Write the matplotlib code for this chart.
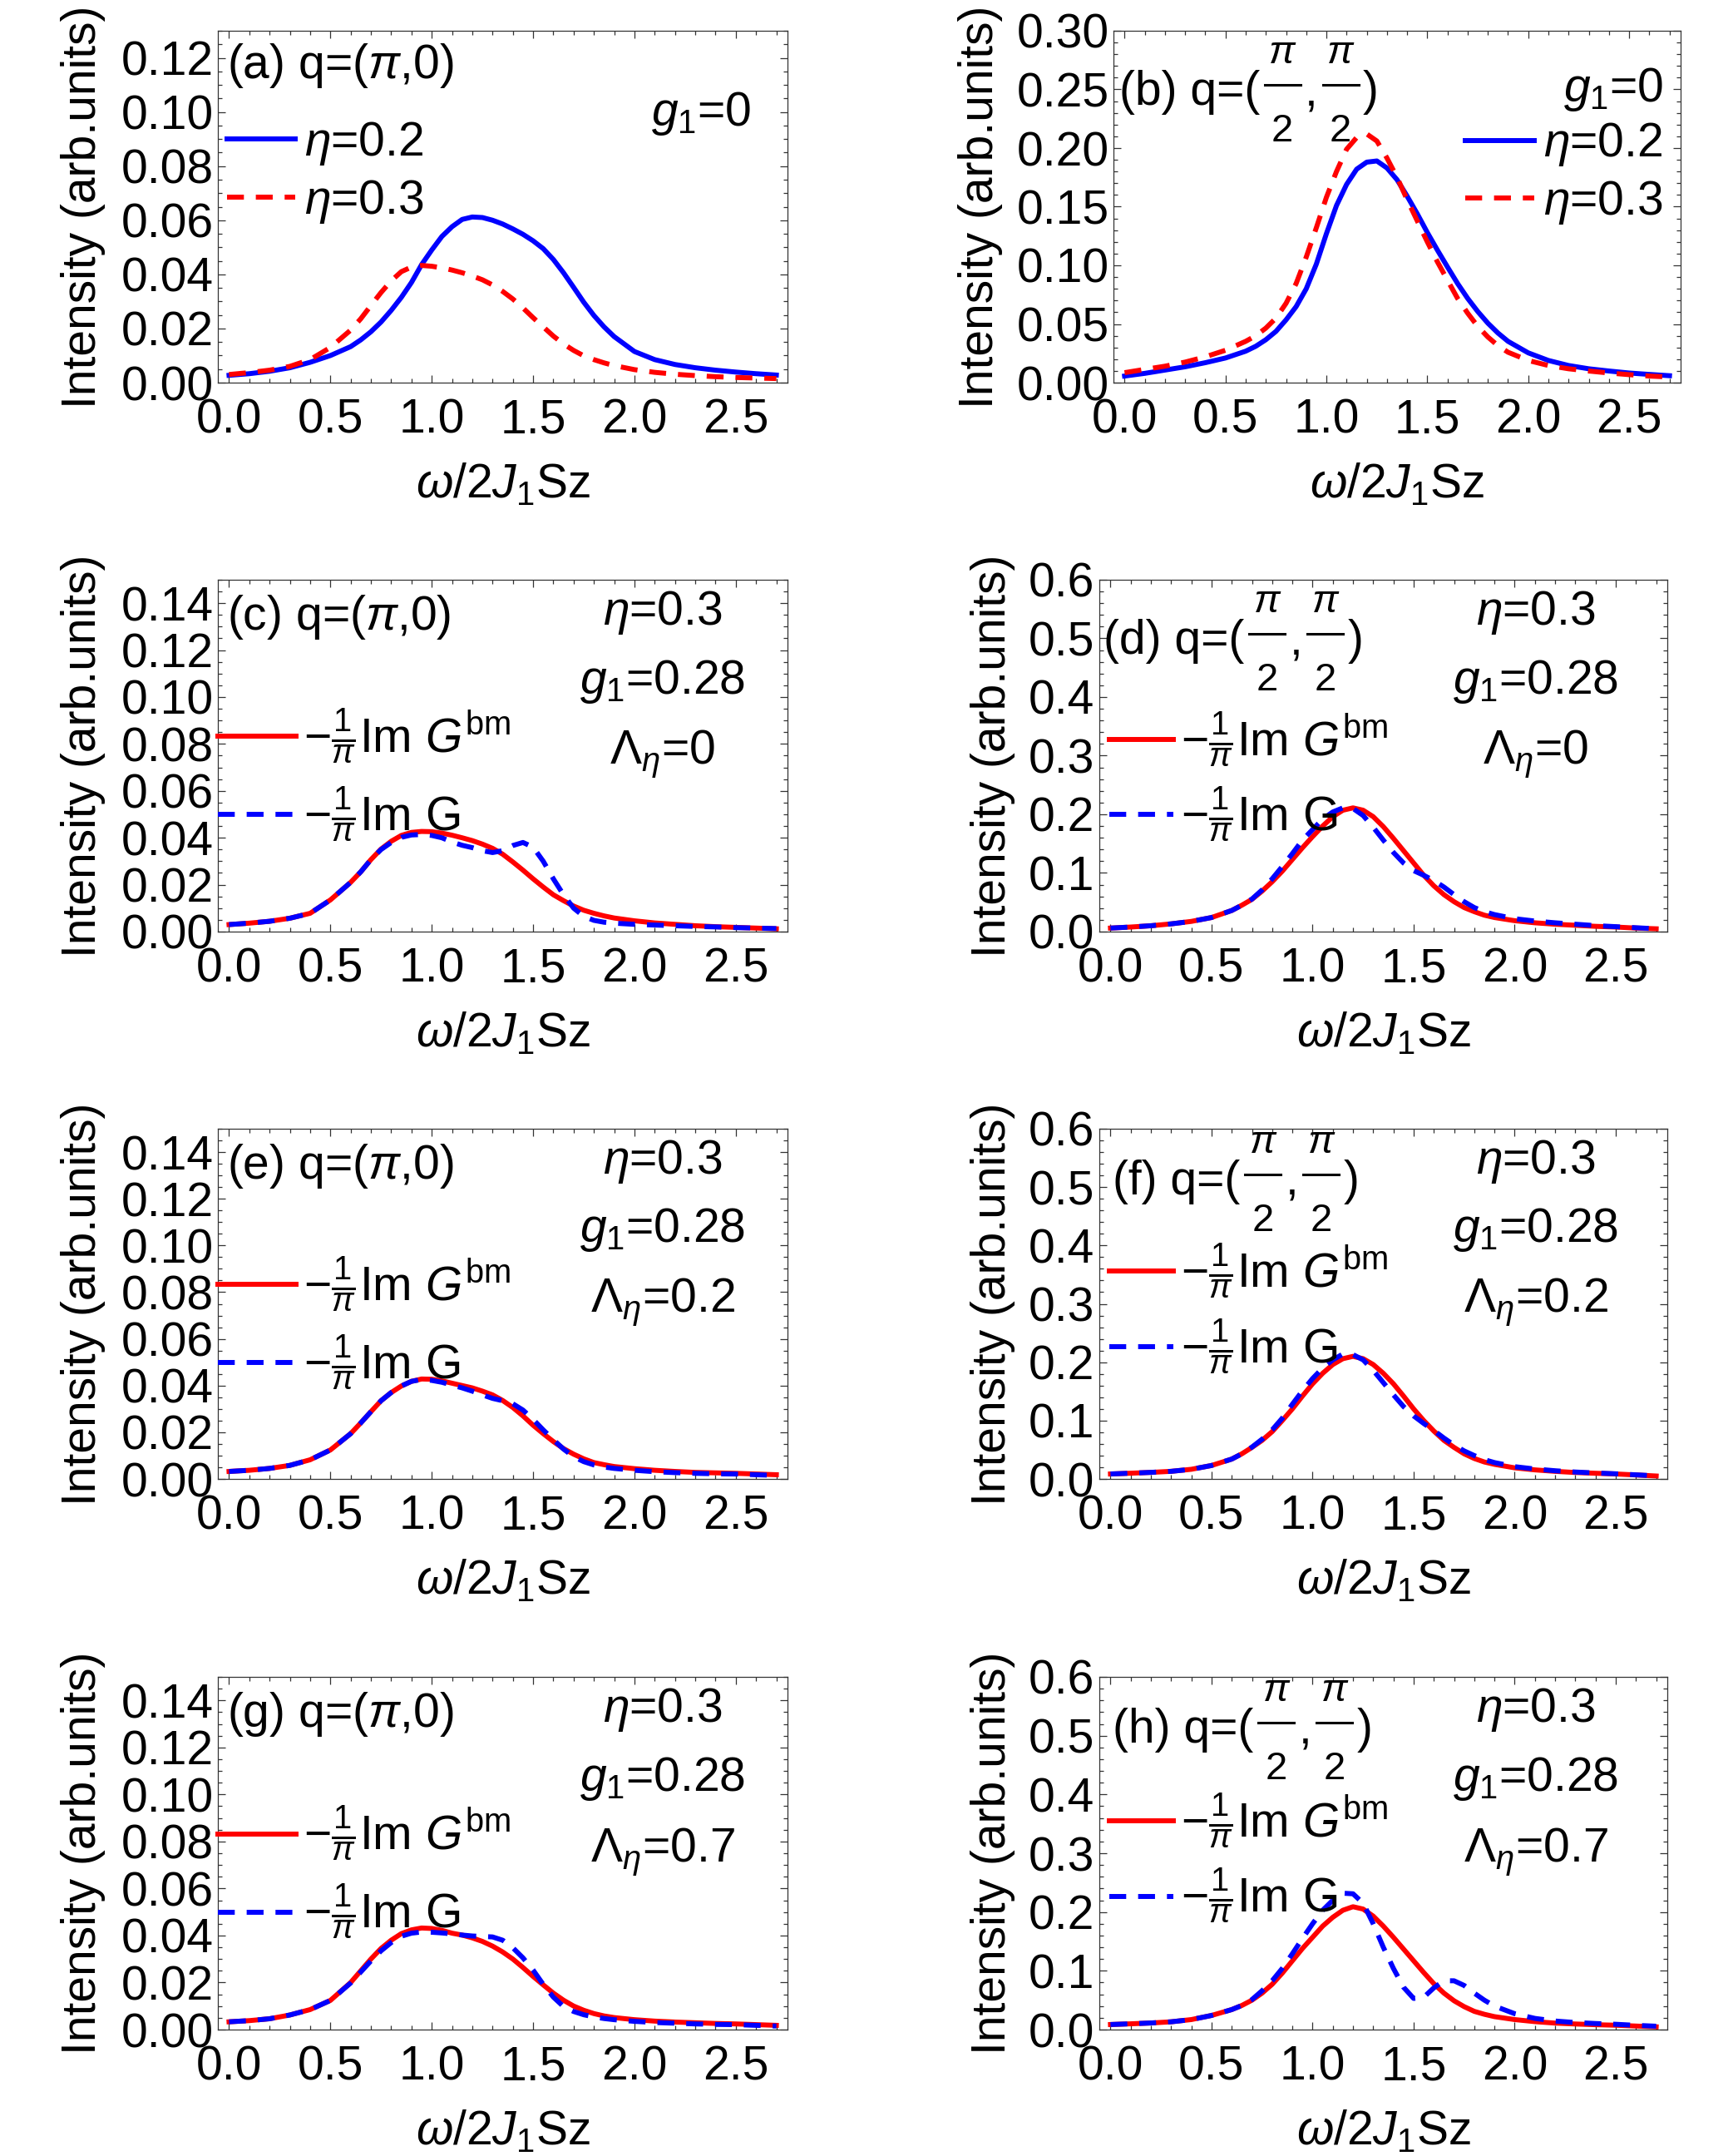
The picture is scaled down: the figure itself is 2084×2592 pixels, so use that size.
import numpy as np
import matplotlib
matplotlib.use('Agg')
import matplotlib.pyplot as plt
from matplotlib.ticker import MultipleLocator, FormatStrFormatter
from matplotlib.offsetbox import TextArea, VPacker, HPacker, DrawingArea, AnchoredOffsetbox
from matplotlib.lines import Line2D

plt.rcParams['font.family'] = ['Liberation Sans', 'DejaVu Sans']
plt.rcParams['mathtext.fontset'] = 'custom'
plt.rcParams['mathtext.rm'] = 'Liberation Sans'
plt.rcParams['mathtext.it'] = 'Liberation Sans:italic'
plt.rcParams['mathtext.bf'] = 'Liberation Sans:bold'

FS = 41

# ── Data ──────────────────────────────────────────────────────────────────────
omega = [0.0, 0.1, 0.2, 0.3, 0.4, 0.5, 0.6, 0.65, 0.7, 0.75, 0.8, 0.85, 0.9, 0.95,
         1.0, 1.05, 1.1, 1.15, 1.2, 1.25, 1.3, 1.35, 1.4, 1.45, 1.5, 1.55, 1.6, 1.65,
         1.7, 1.75, 1.8, 1.85, 1.9, 2.0, 2.1, 2.2, 2.3, 2.4, 2.5, 2.6, 2.7]

# (a) q=(pi,0), g1=0
a_eta02 = [0.0027, 0.0033, 0.0042, 0.0055, 0.0075, 0.0100, 0.0133, 0.0158, 0.0188, 0.0224,
           0.0267, 0.0315, 0.0370, 0.0436, 0.0490, 0.0540, 0.0576, 0.0603, 0.0612, 0.0610,
           0.0600, 0.0586, 0.0568, 0.0548, 0.0524, 0.0495, 0.0455, 0.0406, 0.0352, 0.0297,
           0.0248, 0.0206, 0.0170, 0.0115, 0.0085, 0.0067, 0.0055, 0.0046, 0.0039, 0.0033, 0.0028]
a_eta03 = [0.0030, 0.0037, 0.0046, 0.0060, 0.0085, 0.0130, 0.0194, 0.0236, 0.0285, 0.0333,
           0.0376, 0.0410, 0.0427, 0.0433, 0.0430, 0.0424, 0.0416, 0.0406, 0.0394, 0.0380,
           0.0361, 0.0337, 0.0309, 0.0276, 0.0240, 0.0206, 0.0172, 0.0143, 0.0119, 0.0099,
           0.0085, 0.0073, 0.0063, 0.0048, 0.0038, 0.0031, 0.0026, 0.0022, 0.0019, 0.0017, 0.0015]

# (b) q=(pi/2,pi/2), g1=0
b_eta02 = [0.0056, 0.0079, 0.0107, 0.0135, 0.0170, 0.0210, 0.0268, 0.0310, 0.0366, 0.0437,
           0.0535, 0.0648, 0.0800, 0.1010, 0.1270, 0.1510, 0.1690, 0.1820, 0.1880, 0.1890,
           0.1830, 0.1730, 0.1590, 0.1440, 0.1280, 0.1130, 0.0986, 0.0845, 0.0718, 0.0606,
           0.0507, 0.0423, 0.0352, 0.0254, 0.0189, 0.0146, 0.0118, 0.0099, 0.0082, 0.0070, 0.0059]
b_eta03 = [0.0085, 0.0113, 0.0140, 0.0175, 0.0220, 0.0276, 0.0352, 0.0400, 0.0465, 0.0550,
           0.0676, 0.0845, 0.1070, 0.1320, 0.1580, 0.1800, 0.1990, 0.2090, 0.2120, 0.2060,
           0.1915, 0.1750, 0.1560, 0.1380, 0.1200, 0.1030, 0.0873, 0.0718, 0.0592, 0.0479,
           0.0389, 0.0315, 0.0259, 0.0189, 0.0146, 0.0118, 0.0099, 0.0082, 0.0068, 0.0056, 0.0048]

# (c) q=(pi,0), Lambda=0
c_bm = [0.0030, 0.0036, 0.0044, 0.0057, 0.0078, 0.0135, 0.0210, 0.0255, 0.0307, 0.0352,
        0.0385, 0.0410, 0.0423, 0.0427, 0.0426, 0.0420, 0.0411, 0.0400, 0.0388, 0.0373,
        0.0355, 0.0330, 0.0297, 0.0262, 0.0225, 0.0190, 0.0157, 0.0132, 0.0109, 0.0091,
        0.0078, 0.0067, 0.0058, 0.0046, 0.0037, 0.0031, 0.0025, 0.0021, 0.0018, 0.0015, 0.0012]
c_g = [0.0030, 0.0036, 0.0044, 0.0057, 0.0078, 0.0135, 0.0210, 0.0255, 0.0307, 0.0350,
       0.0380, 0.0402, 0.0412, 0.0414, 0.0410, 0.0400, 0.0382, 0.0368, 0.0358, 0.0345,
       0.0337, 0.0345, 0.0367, 0.0380, 0.0360, 0.0300, 0.0225, 0.0157, 0.0100, 0.0065,
       0.0048, 0.0040, 0.0036, 0.0031, 0.0028, 0.0025, 0.0022, 0.0020, 0.0017, 0.0015, 0.0013]

# (d) q=(pi/2,pi/2), Lambda=0
d_bm = [0.0060, 0.0078, 0.0100, 0.0132, 0.0174, 0.0240, 0.0360, 0.0450, 0.0550, 0.0690,
        0.0850, 0.1030, 0.1230, 0.1430, 0.1620, 0.1800, 0.1960, 0.2070, 0.2110, 0.2070,
        0.1960, 0.1790, 0.1590, 0.1380, 0.1170, 0.0960, 0.0780, 0.0630, 0.0510, 0.0410,
        0.0340, 0.0280, 0.0240, 0.0186, 0.0150, 0.0126, 0.0108, 0.0090, 0.0078, 0.0060, 0.0048]
d_g = [0.0060, 0.0078, 0.0100, 0.0132, 0.0174, 0.0240, 0.0360, 0.0450, 0.0555, 0.0710,
       0.0900, 0.1110, 0.1330, 0.1560, 0.1740, 0.1920, 0.2040, 0.2110, 0.2100, 0.1980,
       0.1780, 0.1560, 0.1350, 0.1170, 0.1040, 0.0960, 0.0870, 0.0760, 0.0630, 0.0510,
       0.0410, 0.0340, 0.0290, 0.0220, 0.0180, 0.0150, 0.0126, 0.0102, 0.0084, 0.0066, 0.0048]

# (e) q=(pi,0), Lambda=0.2
e_bm = [0.0032, 0.0037, 0.0045, 0.0058, 0.0082, 0.0124, 0.0194, 0.0240, 0.0288, 0.0335,
        0.0370, 0.0398, 0.0418, 0.0428, 0.0427, 0.0420, 0.0410, 0.0400, 0.0390, 0.0376,
        0.0360, 0.0336, 0.0306, 0.0270, 0.0230, 0.0194, 0.0160, 0.0130, 0.0106, 0.0086,
        0.0070, 0.0061, 0.0053, 0.0044, 0.0037, 0.0032, 0.0028, 0.0026, 0.0024, 0.0021, 0.0018]
e_g = [0.0032, 0.0037, 0.0045, 0.0058, 0.0082, 0.0124, 0.0194, 0.0240, 0.0288, 0.0335,
       0.0370, 0.0398, 0.0418, 0.0426, 0.0422, 0.0414, 0.0402, 0.0390, 0.0376, 0.0360,
       0.0345, 0.0335, 0.0322, 0.0295, 0.0255, 0.0210, 0.0168, 0.0128, 0.0095, 0.0074,
       0.0060, 0.0051, 0.0045, 0.0037, 0.0031, 0.0027, 0.0024, 0.0022, 0.0021, 0.0018, 0.0015]

# (f) q=(pi/2,pi/2), Lambda=0.2
f_bm = [0.0085, 0.0098, 0.0112, 0.0130, 0.0165, 0.0230, 0.0340, 0.0430, 0.0540, 0.0660,
        0.0810, 0.1000, 0.1200, 0.1420, 0.1630, 0.1810, 0.1960, 0.2060, 0.2100, 0.2060,
        0.1960, 0.1810, 0.1630, 0.1420, 0.1200, 0.1000, 0.0820, 0.0660, 0.0540, 0.0430,
        0.0350, 0.0290, 0.0250, 0.0190, 0.0155, 0.0130, 0.0110, 0.0097, 0.0085, 0.0068, 0.0050]
f_g = [0.0085, 0.0098, 0.0112, 0.0130, 0.0165, 0.0230, 0.0340, 0.0430, 0.0545, 0.0680,
       0.0840, 0.1040, 0.1280, 0.1510, 0.1720, 0.1900, 0.2040, 0.2140, 0.2130, 0.2040,
       0.1860, 0.1650, 0.1440, 0.1240, 0.1080, 0.0950, 0.0830, 0.0700, 0.0580, 0.0480,
       0.0400, 0.0330, 0.0280, 0.0210, 0.0170, 0.0140, 0.0118, 0.0102, 0.0088, 0.0070, 0.0052]

# (g) q=(pi,0), Lambda=0.7
g_bm = [0.0033, 0.0038, 0.0046, 0.0062, 0.0085, 0.0124, 0.0200, 0.0250, 0.0300, 0.0345,
        0.0380, 0.0408, 0.0424, 0.0432, 0.0430, 0.0422, 0.0410, 0.0402, 0.0390, 0.0375,
        0.0355, 0.0330, 0.0300, 0.0264, 0.0226, 0.0190, 0.0155, 0.0125, 0.0100, 0.0082,
        0.0068, 0.0058, 0.0051, 0.0042, 0.0036, 0.0032, 0.0029, 0.0026, 0.0024, 0.0021, 0.0018]
g_g = [0.0033, 0.0038, 0.0046, 0.0062, 0.0085, 0.0124, 0.0198, 0.0245, 0.0292, 0.0335,
       0.0370, 0.0397, 0.0410, 0.0415, 0.0414, 0.0411, 0.0407, 0.0402, 0.0398, 0.0396,
       0.0394, 0.0380, 0.0348, 0.0305, 0.0253, 0.0192, 0.0138, 0.0098, 0.0077, 0.0063,
       0.0054, 0.0047, 0.0042, 0.0035, 0.0030, 0.0027, 0.0024, 0.0022, 0.0021, 0.0018, 0.0015]

# (h) q=(pi/2,pi/2), Lambda=0.7
h_bm = [0.0086, 0.0098, 0.0112, 0.0132, 0.0170, 0.0240, 0.0340, 0.0410, 0.0500, 0.0620,
        0.0770, 0.0960, 0.1170, 0.1380, 0.1570, 0.1760, 0.1910, 0.2030, 0.2090, 0.2050,
        0.1930, 0.1760, 0.1570, 0.1370, 0.1170, 0.0970, 0.0780, 0.0620, 0.0490, 0.0390,
        0.0310, 0.0260, 0.0220, 0.0170, 0.0135, 0.0110, 0.0095, 0.0083, 0.0074, 0.0060, 0.0046]
h_g = [0.0086, 0.0098, 0.0112, 0.0132, 0.0170, 0.0240, 0.0340, 0.0410, 0.0510, 0.0660,
       0.0830, 0.1040, 0.1290, 0.1550, 0.1800, 0.2030, 0.2200, 0.2320, 0.2310, 0.2150,
       0.1800, 0.1400, 0.1040, 0.0720, 0.0530, 0.0550, 0.0710, 0.0830, 0.0830, 0.0750,
       0.0620, 0.0500, 0.0400, 0.0270, 0.0190, 0.0145, 0.0120, 0.0103, 0.0090, 0.0072, 0.0057]

panel_tags = ['(a)', '(b)', '(c)', '(d)', '(e)', '(f)', '(g)', '(h)']
q_pi0 = r'q=($\pi$,0)'
lambdas = ['0', '0.2', '0.7']

LBL_BM = r'$-\frac{1}{\pi}$Im $G^{\mathrm{bm}}$'
LBL_G = r'$-\frac{1}{\pi}$Im G'

BLUE = '#0000ff'
RED = '#ff0000'
FRAME = '#333333'
LW = 4.3
DASH = (3.4, 2.4)

W, H = 2084, 2592


def rect(left, top, right, bottom):
    return [left / W, 1 - bottom / H, (right - left) / W, (bottom - top) / H]


rows = [(37, 460), (697, 1120), (1357, 1778), (2016, 2440)]


def style_axis(ax, ymax, ymaj, ymin, yfmt):
    ax.set_xlim(-0.055, 2.755)
    ax.set_ylim(0, ymax)
    ax.xaxis.set_major_locator(MultipleLocator(0.5))
    ax.xaxis.set_minor_locator(MultipleLocator(0.1))
    ax.yaxis.set_major_locator(MultipleLocator(ymaj))
    ax.yaxis.set_minor_locator(MultipleLocator(ymin))
    ax.xaxis.set_major_formatter(FormatStrFormatter('%.1f'))
    ax.yaxis.set_major_formatter(FormatStrFormatter(yfmt))
    ax.tick_params(which='both', direction='in', top=True, right=True,
                   color=FRAME, width=0.9, labelsize=FS)
    ax.tick_params(which='major', length=6.5)
    ax.tick_params(which='minor', length=3.6)
    ax.tick_params(axis='x', which='major', pad=13)
    ax.tick_params(axis='y', which='major', pad=4)
    for sp in ax.spines.values():
        sp.set_color(FRAME)
        sp.set_linewidth(0.9)
    ax.set_xlabel(r'$\omega/2J_1$Sz', fontsize=FS)
    ax.set_ylabel('Intensity (arb.units)', fontsize=FS)
    ax.xaxis.set_label_coords(0.5, -0.225)


def frac(num, den, size=34):
    # stacked fraction like Mathematica's, built from boxes
    t_num = TextArea(num, textprops=dict(fontsize=size, fontstyle='italic'))
    t_den = TextArea(den, textprops=dict(fontsize=size))
    bar = DrawingArea(31, 4)
    bar.add_artist(Line2D([0, 31], [2, 2], color='black', lw=2.2))
    gap = DrawingArea(1, 3.5)
    return VPacker(children=[t_num, bar, gap, t_den], align='center', pad=0, sep=9.5)


def q_half_label(ax, tag, x, y):
    tp = dict(fontsize=FS)
    box = HPacker(children=[TextArea(tag + ' q=(', textprops=tp),
                            frac('\u03c0', '2'),
                            TextArea(',', textprops=tp),
                            frac('\u03c0', '2'),
                            TextArea(')', textprops=tp)],
                  align='center', pad=0, sep=4)
    anc = AnchoredOffsetbox(loc='center left', child=box, pad=0, borderpad=0,
                            frameon=False, bbox_to_anchor=(x, y),
                            bbox_transform=ax.transAxes)
    ax.add_artist(anc)


fig = plt.figure(figsize=(W / 100, H / 100), dpi=100)

# (a)
ax = fig.add_axes(rect(262, rows[0][0], 947, rows[0][1]))
ax.plot(omega, a_eta02, color=BLUE, lw=LW, label=r'$\eta$=0.2')
ax.plot(omega, a_eta03, color=RED, lw=LW, dashes=DASH, label=r'$\eta$=0.3')
style_axis(ax, 0.13, 0.02, 0.005, '%.2f')
ax.yaxis.set_label_coords(-0.197, 0.5)
ax.text(0.016, 0.90, panel_tags[0] + ' ' + q_pi0, transform=ax.transAxes,
        fontsize=FS, ha='left', va='center')
ax.text(0.848, 0.73, r'$g_1$=0', transform=ax.transAxes, fontsize=FS,
        ha='center', va='baseline')
ax.legend(loc='center left', bbox_to_anchor=(0.016, 0.597), frameon=False,
          fontsize=FS, handlelength=1.44, handletextpad=0.2, borderpad=0,
          borderaxespad=0, labelspacing=0.22)

# (b)
ax = fig.add_axes(rect(1339, rows[0][0], 2021, rows[0][1]))
ax.plot(omega, b_eta02, color=BLUE, lw=LW, label=r'$\eta$=0.2')
ax.plot(omega, b_eta03, color=RED, lw=LW, dashes=DASH, label=r'$\eta$=0.3')
style_axis(ax, 0.30, 0.05, 0.01, '%.2f')
ax.yaxis.set_label_coords(-0.195, 0.5)
q_half_label(ax, panel_tags[1], 0.010, 0.824)
ax.text(0.969, 0.80, r'$g_1$=0', transform=ax.transAxes, fontsize=FS,
        ha='right', va='baseline')
ax.legend(loc='center right', bbox_to_anchor=(0.969, 0.594), frameon=False,
          fontsize=FS, handlelength=1.46, handletextpad=0.2, borderpad=0,
          borderaxespad=0, labelspacing=0.22)

# (c)..(h)
pairs = [(c_bm, c_g), (d_bm, d_g), (e_bm, e_g), (f_bm, f_g), (g_bm, g_g), (h_bm, h_g)]
for i, (bm, gg) in enumerate(pairs):
    r = rows[1 + i // 2]
    right_col = i % 2 == 1
    if right_col:
        ax = fig.add_axes(rect(1322, r[0], 2005, r[1]))
    else:
        ax = fig.add_axes(rect(262, r[0], 947, r[1]))
    ax.plot(omega, bm, color=RED, lw=LW, label=LBL_BM)
    ax.plot(omega, gg, color=BLUE, lw=LW, dashes=DASH, label=LBL_G)
    lam = lambdas[i // 2]
    if right_col:
        style_axis(ax, 0.6, 0.1, 0.02, '%.1f')
        ax.yaxis.set_label_coords(-0.148, 0.5)
        if i == 1:
            q_half_label(ax, panel_tags[2 + i], 0.008, 0.825)
        else:
            q_half_label(ax, panel_tags[2 + i], 0.024, 0.849)
        xc = 0.768
        leg_x, leg_y = 0.018, (0.44 if i == 1 else 0.486)
        hl = 1.35
        lsp = 0.36
    else:
        style_axis(ax, 0.15, 0.02, 0.005, '%.2f')
        ax.yaxis.set_label_coords(-0.197, 0.5)
        ax.text(0.016, 0.894, panel_tags[2 + i] + ' ' + q_pi0, transform=ax.transAxes,
                fontsize=FS, ha='left', va='center')
        xc = 0.781
        leg_x, leg_y = 0.0, 0.445
        hl = 1.65
        lsp = 0.42
    ax.text(xc, 0.872, r'$\eta$=0.3', transform=ax.transAxes, fontsize=FS,
            ha='center', va='baseline')
    ax.text(xc, 0.676, r'$g_1$=0.28', transform=ax.transAxes, fontsize=FS,
            ha='center', va='baseline')
    ax.text(xc, 0.477, r'$\Lambda_\eta$=' + lam, transform=ax.transAxes, fontsize=FS,
            ha='center', va='baseline')
    ax.legend(loc='center left', bbox_to_anchor=(leg_x, leg_y), frameon=False,
              fontsize=FS, handlelength=hl, handletextpad=0.16, borderpad=0,
              borderaxespad=0, labelspacing=lsp)

fig.savefig('out.png', dpi=100)
